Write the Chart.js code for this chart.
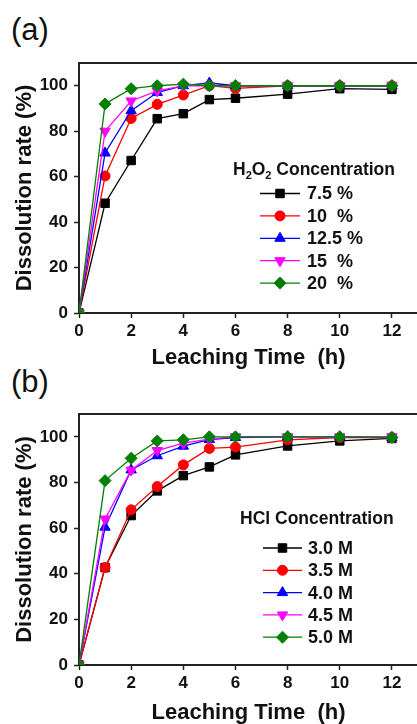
<!DOCTYPE html>
<html>
<head>
<meta charset="utf-8">
<script src="https://cdn.jsdelivr.net/npm/chart.js@4.4.1/dist/chart.umd.min.js"></script>
<style>
  body { margin: 0; width: 417px; height: 724px; overflow: hidden; background: #fff; position: relative;
         font-family: "Liberation Sans", Arial, sans-serif; }
  .tag { position: absolute; left: 11px; font-size: 31px; line-height: 31px; color: #111; }
  canvas { position: absolute; left: 0; }
</style>
</head>
<body>
<div class="tag" style="top:14px">(a)</div>
<div class="tag" style="top:366px">(b)</div>
<canvas id="chartA" width="425" height="372" style="top:0"></canvas>
<canvas id="chartB" width="425" height="366" style="top:362px"></canvas>

<script>
// leaching time (h)
const hours = [0, 1, 2, 3, 4, 5, 6, 8, 10, 12];

// (a) H2O2 concentration series, dissolution rate (%)
const h2o2Names = ["7.5 %", "10  %", "12.5 %", "15  %", "20  %"];
const h2o2_7_5 = [0, 48.3, 67.1, 85.5, 87.7, 93.9, 94.5, 96.3, 98.7, 98.4];
const h2o2_10 = [0, 60.3, 85.6, 91.8, 95.9, 100, 98.8, 100, 100, 100];
const h2o2_12_5 = [0, 70.4, 89.0, 97.0, 100, 101.2, 100, 100, 100, 100];
const h2o2_15 = [0, 80.0, 93.3, 97.7, 99.9, 100, 100, 100, 100, 100];
const h2o2_20 = [0, 92.0, 98.7, 100, 100.7, 100, 100, 100, 100, 100];

// (b) HCl concentration series, dissolution rate (%)
const hclNames = ["3.0 M", "3.5 M", "4.0 M", "4.5 M", "5.0 M"];
const hcl_3_0 = [0, 42.7, 65.5, 76.3, 83.0, 86.8, 92.1, 96.0, 98.2, 99.3];
const hcl_3_5 = [0, 42.7, 68.0, 78.2, 87.7, 94.9, 95.5, 98.7, 99.7, 99.7];
const hcl_4_0 = [0, 60.4, 85.5, 91.7, 95.9, 98.8, 99.7, 100, 100, 99.7];
const hcl_4_5 = [0, 64.0, 85.4, 94.0, 97.2, 99.0, 100, 100, 100, 100];
const hcl_5_0 = [0, 80.8, 90.6, 98.2, 98.7, 100, 100, 100, 100, 99.7];

const colors = ["#000000", "#ff0000", "#0000ff", "#ff00ff", "#008000"];
const markers = [
  { style: "rect", rot: 0, r: 6 },
  { style: "circle", rot: 0, r: 5 },
  { style: "triangle", rot: 0, r: 6 },
  { style: "triangle", rot: 180, r: 6 },
  { style: "rectRot", rot: 0, r: 6 }
];

const INK = "#111";
Chart.defaults.font.family = '"Liberation Sans", Arial, sans-serif';
Chart.defaults.color = INK;

function drawMarker(ctx, m, x, y, color) {
  const r = m.r;
  ctx.save();
  ctx.fillStyle = color;
  ctx.strokeStyle = color;
  ctx.lineWidth = 1;
  ctx.beginPath();
  if (m.style === "rect") {
    const s = r * Math.SQRT1_2;
    ctx.rect(x - s, y - s, 2 * s, 2 * s);
  } else if (m.style === "circle") {
    ctx.arc(x, y, r, 0, Math.PI * 2);
  } else if (m.style === "triangle") {
    let a = m.rot * Math.PI / 180;
    for (let k = 0; k < 3; k++) {
      const px = x + Math.sin(a) * r, py = y - Math.cos(a) * r;
      k ? ctx.lineTo(px, py) : ctx.moveTo(px, py);
      a += 2 * Math.PI / 3;
    }
    ctx.closePath();
  } else {
    ctx.moveTo(x - r, y); ctx.lineTo(x, y - r); ctx.lineTo(x + r, y); ctx.lineTo(x, y + r);
    ctx.closePath();
  }
  ctx.fill();
  ctx.stroke();
  ctx.restore();
}

// top frame line of the plot box (right side falls outside the picture)
const framePlugin = {
  id: "frame",
  beforeDatasetsDraw(chart) {
    const { ctx, chartArea: a } = chart;
    ctx.save();
    ctx.strokeStyle = "#222";
    ctx.lineWidth = 2;
    ctx.beginPath();
    ctx.moveTo(a.left, a.top);
    ctx.lineTo(a.right, a.top);
    ctx.stroke();
    ctx.restore();
  }
};

// legend drawn inside the plot area
const boxLegend = {
  id: "boxLegend",
  afterDraw(chart, args, opts) {
    const ctx = chart.ctx;
    ctx.save();
    ctx.fillStyle = INK;
    ctx.textBaseline = "alphabetic";
    let x = opts.titleX;
    for (const seg of opts.title) {
      ctx.font = seg.sub ? "bold 11px 'Liberation Sans', Arial" : "bold 17.5px 'Liberation Sans', Arial";
      ctx.fillText(seg.t, x, opts.titleY + (seg.sub ? 4 : 0));
      x += ctx.measureText(seg.t).width;
    }
    ctx.font = "bold 18px 'Liberation Sans', Arial";
    ctx.textBaseline = "middle";
    chart.data.datasets.forEach((ds, i) => {
      const y = opts.rowY + i * opts.rowStep;
      ctx.strokeStyle = colors[i];
      ctx.lineWidth = 1.3;
      ctx.beginPath();
      ctx.moveTo(opts.lineX0, y);
      ctx.lineTo(opts.lineX1, y);
      ctx.stroke();
      drawMarker(ctx, markers[i], (opts.lineX0 + opts.lineX1) / 2, y, colors[i]);
      ctx.fillStyle = INK;
      ctx.fillText(ds.label, opts.textX, y + 1);
    });
    ctx.restore();
  }
};

function makeChart(id, series, names, legend, geo) {
  const datasets = series.map((vals, i) => ({
    label: names[i],
    data: vals.map((v, j) => ({ x: hours[j], y: v })),
    borderColor: colors[i],
    backgroundColor: colors[i],
    pointBackgroundColor: colors[i],
    pointBorderColor: colors[i],
    pointStyle: markers[i].style,
    pointRotation: markers[i].rot,
    pointRadius: markers[i].r,
    pointBorderWidth: 1,
    borderWidth: 1.3,
    tension: 0,
    order: series.length - 1 - i
  }));

  const tickFont = { size: 17, weight: "bold" };
  const titleFont = { size: 22, weight: "bold" };

  return new Chart(document.getElementById(id), {
    type: "line",
    data: { datasets },
    options: {
      responsive: false,
      animation: false,
      events: [],
      layout: { padding: { top: geo.top, left: 0, right: 2, bottom: geo.bottomPad } },
      plugins: { legend: { display: false }, tooltip: { enabled: false }, boxLegend: legend },
      scales: {
        x: {
          type: "linear",
          min: 0, max: 13,
          afterFit(s) { s.height = geo.xHeight; },
          ticks: { stepSize: 2, includeBounds: false, font: tickFont, color: INK, padding: 3, maxRotation: 0 },
          grid: { drawOnChartArea: false, drawTicks: true, tickLength: 5, tickWidth: 1.5, tickColor: "#222" },
          border: { display: true, width: 2, color: "#222" },
          title: { display: true, text: "Leaching Time  (h)", font: titleFont, color: INK, padding: 0 }
        },
        y: {
          min: 0, max: 110,
          afterFit(s) { s.width = 79; },
          ticks: { stepSize: 20, includeBounds: false, font: tickFont, color: INK, padding: 6 },
          grid: { drawOnChartArea: false, drawTicks: true, tickLength: 5, tickWidth: 1.5, tickColor: "#222" },
          border: { display: true, width: 2, color: "#222" },
          title: { display: true, text: "Dissolution rate (%)", font: titleFont, color: INK, padding: { top: 12, bottom: 0 } }
        }
      }
    },
    plugins: [framePlugin, boxLegend]
  });
}

makeChart("chartA",
  [h2o2_7_5, h2o2_10, h2o2_12_5, h2o2_15, h2o2_20], h2o2Names,
  {
    title: [{ t: "H" }, { t: "2", sub: true }, { t: "O" }, { t: "2", sub: true }, { t: " Concentration" }],
    titleX: 233, titleY: 175, rowY: 193.5, rowStep: 22.4, lineX0: 260, lineX1: 300, textX: 307
  },
  { top: 63, bottomPad: 1, xHeight: 59 - 1 });

makeChart("chartB",
  [hcl_3_0, hcl_3_5, hcl_4_0, hcl_4_5, hcl_5_0], hclNames,
  {
    title: [{ t: "HCl Concentration" }],
    titleX: 240, titleY: 162, rowY: 186, rowStep: 22.3, lineX0: 263, lineX1: 302, textX: 308
  },
  { top: 52, bottomPad: 2, xHeight: 63 - 2 });
</script>
</body>
</html>
